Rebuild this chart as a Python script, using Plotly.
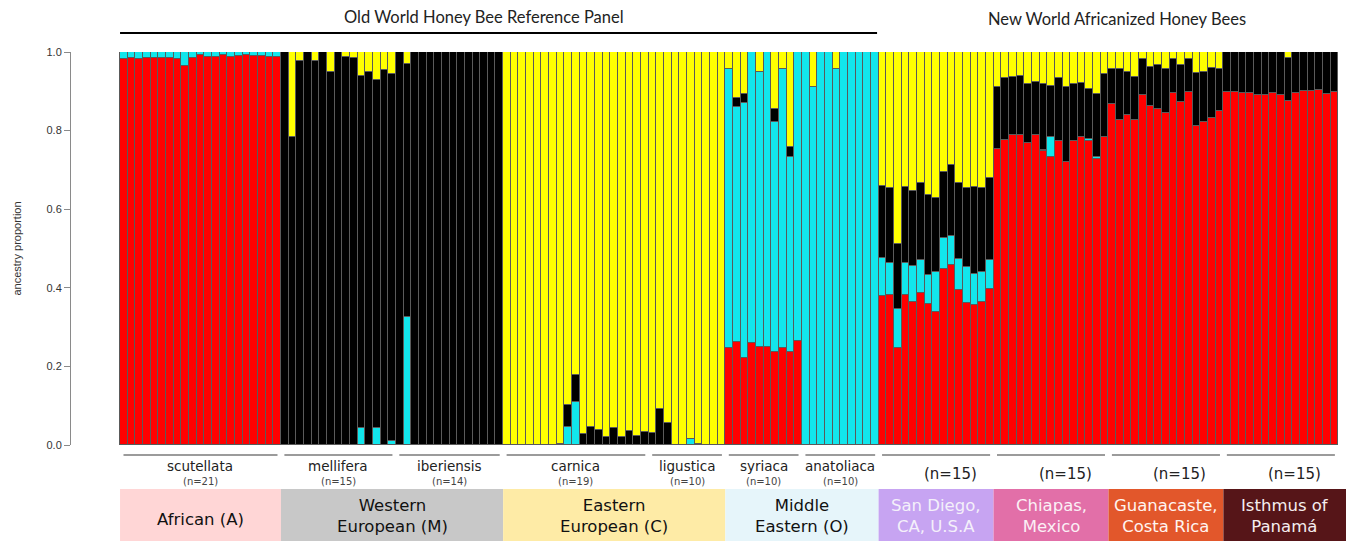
import plotly.graph_objects as go

# ---------------- data ----------------
group_names = ["scutellata", "mellifera", "iberiensis", "carnica", "ligustica",
               "syriaca", "anatoliaca", "San Diego", "Chiapas", "Guanacaste", "Panama"]
group_sizes = [21, 15, 14, 19, 10, 10, 10, 15, 15, 15, 15]
group_n_labels = ["(n=21)", "(n=15)", "(n=14)", "(n=19)", "(n=10)", "(n=10)", "(n=10)",
                  "(n=15)", "(n=15)", "(n=15)", "(n=15)"]
old_world_species = ["scutellata", "mellifera", "iberiensis", "carnica", "ligustica",
                     "syriaca", "anatoliaca"]

region_labels = ["African (A)", "Western<br>European (M)", "Eastern<br>European (C)",
                 "Middle<br>Eastern (O)", "San Diego,<br>CA, U.S.A", "Chiapas,<br>Mexico",
                 "Guanacaste,<br>Costa Rica", "Isthmus of<br>Panamá"]
region_sizes = [21, 29, 29, 20, 15, 15, 15, 15]
region_fill = ["#FFD6D6", "#C8C8C8", "#FEEBA6", "#E6F5FA", "#C7A4F2", "#E26FA8", "#E2572B", "#561518"]
region_text = ["#111111", "#111111", "#111111", "#111111", "#F4F0FA", "#FBF0F5", "#FFF4F0", "#F5EEEE"]

# cumulative ancestry boundaries per individual: A (red) top, O (cyan) top, M (black) top; C (yellow) fills to 1
scut_red = [0.982, 0.985, 0.983, 0.986, 0.986, 0.984, 0.984, 0.983, 0.964, 0.985, 0.992,
            0.987, 0.987, 0.993, 0.988, 0.990, 0.992, 0.989, 0.990, 0.988, 0.988]
scut_cyan = [1.0] * 21
scut_black = [1.0] * 21

mell_red = [0.0] * 15
mell_cyan = [0, 0, 0, 0, 0, 0, 0, 0, 0, 0, 0.044, 0, 0.042, 0, 0.010]
mell_black = [1.0, 0.784, 0.978, 1.0, 0.978, 1.0, 0.950, 1.0, 0.988, 0.986, 0.939, 0.948, 0.928, 0.954, 0.943]

iber_red = [0.0] * 14
iber_cyan = [0, 0.326, 0, 0, 0, 0, 0, 0, 0, 0, 0, 0, 0, 0]
iber_black = [1.0, 0.969, 1.0, 1.0, 1.0, 1.0, 1.0, 1.0, 1.0, 1.0, 1.0, 1.0, 1.0, 1.0]

carn_red = [0.0] * 19
carn_cyan = [0, 0, 0, 0, 0, 0, 0, 0, 0.047, 0.109, 0, 0, 0, 0, 0, 0, 0, 0, 0]
carn_black = [0, 0, 0, 0, 0, 0, 0, 0.003, 0.102, 0.179, 0.027, 0.047, 0.037, 0.020, 0.042,
              0.021, 0.036, 0.023, 0.032]

ligu_red = [0.0] * 10
ligu_cyan = [0, 0, 0, 0, 0, 0.015, 0, 0, 0, 0]
ligu_black = [0.031, 0.091, 0.057, 0, 0, 0.015, 0.003, 0, 0, 0]

syri_red = [0.248, 0.263, 0.221, 0.259, 0.250, 0.250, 0.237, 0.246, 0.237, 0.264]
syri_cyan = [0.958, 0.861, 0.869, 1.0, 0.950, 1.0, 0.823, 0.958, 0.734, 1.0]
syri_black = [0.958, 0.882, 0.893, 1.0, 0.950, 1.0, 0.855, 0.958, 0.759, 1.0]

anat_red = [0.0] * 10
anat_cyan = [1.0, 0.912, 1.0, 1.0, 0.958, 1.0, 1.0, 1.0, 1.0, 1.0]
anat_black = [1.0, 0.912, 1.0, 1.0, 0.958, 1.0, 1.0, 1.0, 1.0, 1.0]

sd_red = [0.379, 0.382, 0.246, 0.382, 0.365, 0.386, 0.360, 0.339, 0.447, 0.457, 0.394, 0.362, 0.356, 0.365, 0.396]
sd_cyan = [0.475, 0.464, 0.345, 0.464, 0.455, 0.472, 0.432, 0.439, 0.528, 0.532, 0.474, 0.452, 0.434, 0.440, 0.471]
sd_black = [0.660, 0.653, 0.511, 0.657, 0.646, 0.666, 0.635, 0.628, 0.695, 0.712, 0.667, 0.653, 0.657, 0.653, 0.680]

chi_red = [0.753, 0.776, 0.789, 0.789, 0.768, 0.789, 0.748, 0.734, 0.774, 0.719, 0.774, 0.784, 0.774, 0.728, 0.783]
chi_cyan = [0.753, 0.776, 0.789, 0.789, 0.768, 0.789, 0.751, 0.784, 0.774, 0.719, 0.774, 0.784, 0.778, 0.734, 0.783]
chi_black = [0.910, 0.935, 0.937, 0.940, 0.918, 0.924, 0.918, 0.913, 0.935, 0.912, 0.918, 0.922, 0.907, 0.893, 0.943]

gua_red = [0.868, 0.827, 0.840, 0.827, 0.890, 0.863, 0.856, 0.845, 0.896, 0.872, 0.898, 0.812, 0.821, 0.831, 0.849]
gua_cyan = list(gua_red)
gua_black = [0.958, 0.958, 0.950, 0.936, 0.981, 0.963, 0.968, 0.956, 0.982, 0.967, 0.981, 0.946, 0.948, 0.960, 0.956]

pan_red = [0.898, 0.897, 0.896, 0.895, 0.891, 0.891, 0.896, 0.890, 0.876, 0.895, 0.902, 0.902, 0.903, 0.893, 0.897]
pan_cyan = list(pan_red)
pan_black = [1.0, 1.0, 1.0, 1.0, 1.0, 1.0, 1.0, 1.0, 0.986, 1.0, 1.0, 1.0, 1.0, 1.0, 1.0]

red_top = scut_red + mell_red + iber_red + carn_red + ligu_red + syri_red + anat_red + sd_red + chi_red + gua_red + pan_red
cyan_top = scut_cyan + mell_cyan + iber_cyan + carn_cyan + ligu_cyan + syri_cyan + anat_cyan + sd_cyan + chi_cyan + gua_cyan + pan_cyan
black_top = scut_black + mell_black + iber_black + carn_black + ligu_black + syri_black + anat_black + sd_black + chi_black + gua_black + pan_black

# ---------------- derived proportions ----------------
n_ind = len(red_top)
xs = list(range(n_ind))
prop_A = [r for r in red_top]
prop_O = [max(c - r, 0) for r, c in zip(red_top, cyan_top)]
prop_M = [max(b - c, 0) for c, b in zip(cyan_top, black_top)]
prop_C = [max(1 - b, 0) for b in black_top]

line_col = "#5a5a5a"
fig = go.Figure()
for name, vals, col in [("A", prop_A, "#FF0000"), ("O", prop_O, "#12E6EC"),
                        ("M", prop_M, "#000000"), ("C", prop_C, "#FFFF00")]:
    fig.add_trace(go.Bar(x=xs, y=vals, name=name, marker=dict(color=col, line=dict(color=line_col, width=1)),
                         width=1.0, hoverinfo="skip"))

# ---------------- layout helpers ----------------
H_PLOT_TOP, H_PLOT_BOT = 52, 445


def py(ypix):
    return (H_PLOT_BOT - ypix) / (H_PLOT_BOT - H_PLOT_TOP)


shapes = []
annotations = []

# top titles
shapes.append(dict(type="line", xref="x", yref="paper", x0=-0.5, x1=98.3, y0=py(33), y1=py(33),
                   line=dict(color="#000000", width=2)))
annotations.append(dict(text="Old World Honey Bee Reference Panel", xref="paper", yref="paper",
                        x=(484 - 71) / 1275, y=py(17), showarrow=False, xanchor="center", yanchor="middle",
                        font=dict(family="Lato", size=16.5, color="#222222")))
annotations.append(dict(text="New World Africanized Honey Bees", xref="paper", yref="paper",
                        x=(1117 - 71) / 1275, y=py(19), showarrow=False, xanchor="center", yanchor="middle",
                        font=dict(family="Lato", size=16.5, color="#222222")))

# group underlines and labels
start = 0
for gname, size, nlab in zip(group_names, group_sizes, group_n_labels):
    x0 = start - 0.5 + 0.45
    x1 = start + size - 0.5 - 0.45
    shapes.append(dict(type="line", xref="x", yref="paper", x0=x0, x1=x1, y0=py(455), y1=py(455),
                       line=dict(color="#7a7a7a", width=1.5)))
    cx = start + (size - 1) / 2
    if gname in old_world_species:
        annotations.append(dict(text=gname, xref="x", yref="paper", x=cx, y=py(466), showarrow=False,
                                xanchor="center", yanchor="middle",
                                font=dict(family="DejaVu Sans", size=13.5, color="#222222")))
        annotations.append(dict(text=nlab, xref="x", yref="paper", x=cx, y=py(482), showarrow=False,
                                xanchor="center", yanchor="middle",
                                font=dict(family="DejaVu Sans", size=10, color="#444444")))
    else:
        annotations.append(dict(text=nlab, xref="x", yref="paper", x=cx, y=py(474), showarrow=False,
                                xanchor="center", yanchor="middle", xshift=14,
                                font=dict(family="DejaVu Sans", size=15, color="#222222")))
    start += size

# region boxes
start = 0
for i, (lab, size, fillc, tc) in enumerate(zip(region_labels, region_sizes, region_fill, region_text)):
    x0 = start - 0.5
    x1 = start + size - 0.5
    if i == len(region_labels) - 1:
        x1 = start + size + 0.6
    shapes.append(dict(type="rect", xref="x", yref="paper", x0=x0, x1=x1, y0=py(541), y1=py(489),
                       fillcolor=fillc, line=dict(width=0), layer="above"))
    cy = py(519) if "<br>" not in lab else py(516)
    annotations.append(dict(text=lab, xref="x", yref="paper", x=(x0 + x1) / 2, y=cy, showarrow=False,
                            xanchor="center", yanchor="middle",
                            font=dict(family="DejaVu Sans", size=16.5, color=tc)))
    start += size

fig.update_layout(
    width=1346, height=541,
    margin=dict(l=71, r=0, t=52, b=96),
    paper_bgcolor="white", plot_bgcolor="white",
    barmode="stack", bargap=0, showlegend=False,
    shapes=shapes, annotations=annotations,
    xaxis=dict(visible=False, range=[-6.9, 159.5], fixedrange=True),
    yaxis=dict(range=[0, 1], tickvals=[0, 0.2, 0.4, 0.6, 0.8, 1.0],
               ticktext=["0.0", "0.2", "0.4", "0.6", "0.8", "1.0"],
               showgrid=False, zeroline=False, showline=True, linecolor="#8a8a8a", linewidth=1,
               ticks="outside", ticklen=6, tickcolor="#8a8a8a", fixedrange=True,
               tickfont=dict(family="Liberation Sans", size=11, color="#333333"),
               title=dict(text="ancestry proportion", standoff=22,
                          font=dict(family="Liberation Sans", size=11, color="#333333"))),
)

fig.write_html("out.html", config={"displayModeBar": False},
               post_script="document.body.style.margin='0';document.body.style.overflow='hidden';")
